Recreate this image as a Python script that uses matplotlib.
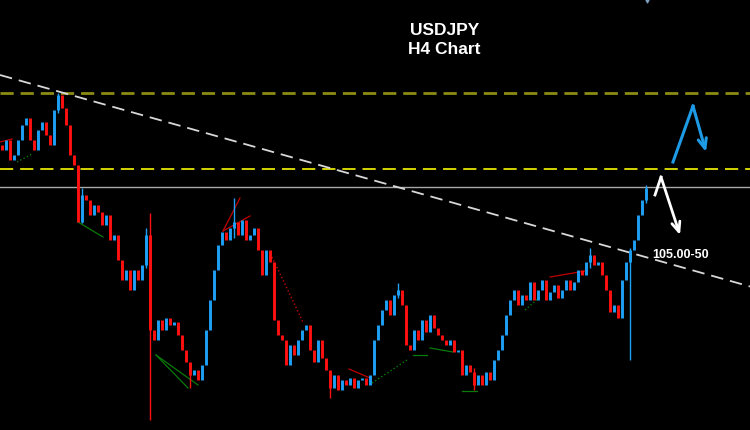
import matplotlib.pyplot as plt

plt.rcParams["lines.scale_dashes"] = False

# H4 closes, one per bar (open = previous close)
closes = [106.86, 107.06, 106.66, 106.76, 107.06, 107.36, 107.50, 107.06, 106.86, 107.26,
          107.42, 107.16, 106.96, 107.66, 107.96, 107.70, 107.36, 106.76, 106.56, 105.42,
          105.96, 105.86, 105.56, 105.76, 105.62, 105.36, 105.56, 105.06, 105.16, 104.66,
          104.26, 104.46, 104.06, 104.46, 104.26, 104.56, 105.16, 103.26, 103.06, 103.46,
          103.26, 103.50, 103.36, 103.42, 103.16, 102.86, 102.62, 102.36, 102.46, 102.26,
          102.56, 103.26, 103.86, 104.46, 104.96, 105.22, 105.06, 105.30, 105.42, 105.16,
          105.46, 105.06, 105.16, 105.30, 104.86, 104.36, 104.86, 104.62, 103.46, 103.16,
          103.06, 102.56, 102.96, 102.76, 103.06, 103.26, 103.36, 102.86, 102.62, 103.06,
          102.70, 102.46, 102.10, 102.36, 102.06, 102.26, 102.16, 102.30, 102.10, 102.26,
          102.30, 102.16, 102.36, 103.06, 103.36, 103.66, 103.86, 103.56, 103.96, 104.06,
          103.76, 102.96, 102.86, 103.26, 103.06, 103.46, 103.22, 103.56, 103.30, 103.16,
          103.06, 102.96, 103.06, 102.82, 102.86, 102.36, 102.56, 102.42, 102.16, 102.36,
          102.16, 102.42, 102.26, 102.66, 102.86, 103.16, 103.56, 103.86, 104.06, 103.76,
          103.96, 103.86, 104.22, 103.86, 104.06, 104.26, 103.86, 104.02, 104.16, 103.90,
          104.06, 104.26, 104.06, 104.22, 104.46, 104.36, 104.62, 104.76, 104.56, 104.62,
          104.36, 104.06, 103.62, 103.76, 103.50, 104.26, 104.62, 104.86, 105.06, 105.56,
          105.86, 106.10]
first_open = 106.96

# bars with visible wicks: index -> (high, low)
wicks = {14: (108.00, 107.60), 20: (106.10, 105.40), 36: (105.30, 104.50),
         37: (105.60, 101.46), 47: (102.60, 102.10), 58: (105.90, 105.10),
         82: (102.40, 101.90), 99: (104.20, 103.90), 118: (102.50, 102.06),
         147: (104.90, 104.50), 157: (104.90, 102.66), 161: (106.16, 105.80)}

# levels
upper_level = 108.00
lower_level = 106.48
current_level = 106.12
trend_x = [-0.5, 187.0]
trend_y = [108.36, 104.13]

# zigzag indicator segments: (i0, p0, i1, p1)
red_lines = [(55.25, 105.24, 59.5, 105.90), (55.25, 105.24, 62, 105.54),
             (86.75, 102.48, 92, 102.30), (137, 104.32, 145.75, 104.44),
             (-0.5, 107.02, 2.5, 107.08)]
red_dotted = [(67.5, 104.72, 75.25, 103.42)]
green_lines = [(38.5, 102.76, 46.5, 102.10), (38.5, 102.76, 49, 102.16),
               (19, 105.42, 25.25, 105.12), (102.75, 102.76, 106.25, 102.76),
               (107, 102.90, 112.75, 102.82), (115, 102.04, 118.75, 102.04)]
green_dotted = [(3.75, 106.62, 7.5, 106.78), (92.5, 102.20, 101.25, 102.66),
                (130.75, 103.66, 134.5, 103.92)]

# scenario arrows
white_arrow_x = [163.25, 164.75, 169.5]
white_arrow_y = [105.96, 106.32, 105.16]
blue_arrow_x = [167.75, 172.75, 176.0]
blue_arrow_y = [106.62, 107.74, 106.82]

fig = plt.figure(figsize=(7.5, 4.3), dpi=100, facecolor="black")
ax = fig.add_axes([0, 0, 1, 1])
ax.set_facecolor("black")
ax.set_xlim(-0.5, 187)
ax.set_ylim(101.26, 109.86)
ax.axis("off")

# Levels and trendline
ax.axhline(upper_level, color="#8c8c14", lw=2, dashes=(9.5, 5))
ax.axhline(lower_level, color="#d4d400", lw=1.4, dashes=(9.5, 5))
ax.axhline(current_level, color="#a8a8a8", lw=1)
ax.plot(trend_x, trend_y, color="#d8d8d8", lw=1.3, dashes=(9, 5))

# Indicator lines
for x0, y0, x1, y1 in red_lines:
    ax.plot([x0, x1], [y0, y1], color="#c00000", lw=0.9)
for x0, y0, x1, y1 in red_dotted:
    ax.plot([x0, x1], [y0, y1], color="#c00000", lw=1, ls=":")
for x0, y0, x1, y1 in green_lines:
    ax.plot([x0, x1], [y0, y1], color="#0a7a0a", lw=0.9)
for x0, y0, x1, y1 in green_dotted:
    ax.plot([x0, x1], [y0, y1], color="#0a7a0a", lw=1, ls=":")

# Candles
prev = first_open
for i, c in enumerate(closes):
    color = "#1ea0f5" if c >= prev else "#ff1010"
    if i in wicks:
        hi, lo = wicks[i]
        ax.vlines(i, lo, hi, color=color, lw=1.0)
    ax.vlines(i, min(prev, c), max(prev, c), color=color, lw=2.1)
    prev = c

# Arrows (open V heads)
ax.plot(white_arrow_x[:2], white_arrow_y[:2], color="white", lw=2)
ax.annotate("", xy=(white_arrow_x[2], white_arrow_y[2]), xytext=(white_arrow_x[1], white_arrow_y[1]),
            arrowprops=dict(arrowstyle="->,head_length=0.7,head_width=0.3", color="white",
                            lw=2, shrinkA=0, shrinkB=0))
ax.plot(blue_arrow_x[:2], blue_arrow_y[:2], color="#1e9be6", lw=2.2)
ax.annotate("", xy=(blue_arrow_x[2], blue_arrow_y[2]), xytext=(blue_arrow_x[1], blue_arrow_y[1]),
            arrowprops=dict(arrowstyle="->,head_length=0.7,head_width=0.3", color="#1e9be6",
                            lw=2.2, shrinkA=0, shrinkB=0))

# partial marker at the top edge
ax.scatter([161.25], [109.92], marker="v", s=60, color="#7f9fbf", clip_on=True)

# Texts
ax.text(162.5, 104.76, "105.00-50", color="white", fontsize=9, fontweight="bold",
        family="Liberation Sans", va="center", ha="left")
ax.text(0.593, 0.907, "USDJPY\nH4 Chart", transform=ax.transAxes, color="white",
        fontsize=12.5, fontweight="bold", family="Liberation Sans", ha="center", va="center",
        linespacing=1.32)

plt.savefig("out.png", dpi=100, facecolor="black")
